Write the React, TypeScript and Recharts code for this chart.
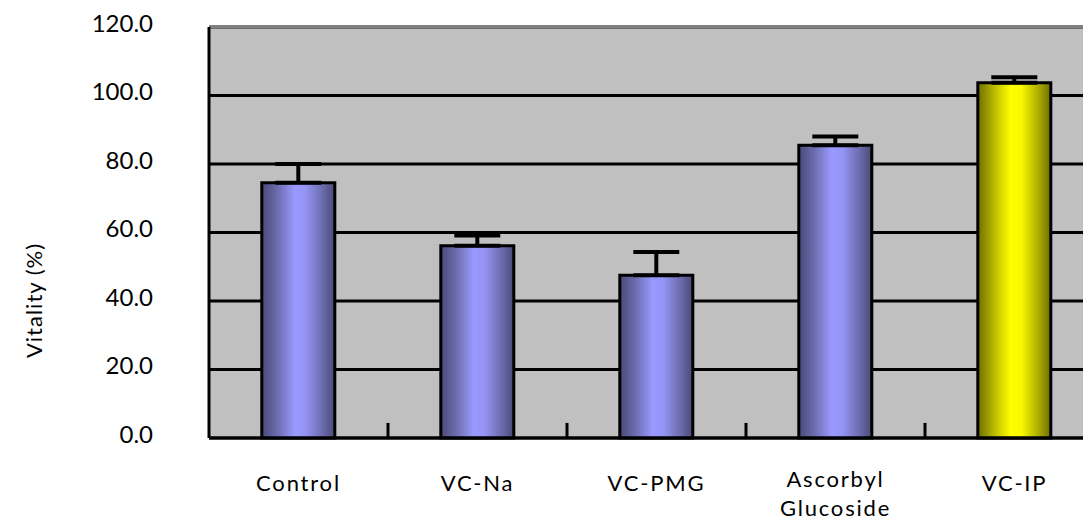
import React from 'react';
import { BarChart, Bar, XAxis, YAxis, CartesianGrid, ErrorBar, Cell, ReferenceLine } from 'recharts';

const categories = ['Control', 'VC-Na', 'VC-PMG', 'Ascorbyl\nGlucoside', 'VC-IP'];
const vitality = [74.5, 56.1, 47.5, 85.5, 103.7];
const errors = [5.5, 3.0, 6.8, 2.5, 1.6];
const yTicks = [0, 20, 40, 60, 80, 100, 120];
const highlight = 'VC-IP';

const data = categories.map((c, i) => ({ name: c, value: vitality[i], err: [0, errors[i]] }));

const FONT = 'Lato, "DejaVu Sans", sans-serif';

const XTick = (props: any) => {
  const { x, y, payload } = props;
  const lines = String(payload.value).split('\n');
  const shift = lines.length > 1 ? -4 : 0;
  return (
    <g>
      {lines.map((l, i) => (
        <text key={i} x={x} y={y + shift + i * 29} textAnchor="middle" dominantBaseline="central"
          fontFamily={FONT} fontSize={22} fill="#000" letterSpacing={1.8}>{l}</text>
      ))}
    </g>
  );
};

const YLabel = (props: any) => {
  const { viewBox } = props;
  const cx = 33;
  const cy = viewBox.y + viewBox.height / 2 + 68;
  return (
    <text x={cx} y={cy} transform={`rotate(-90, ${cx}, ${cy})`} textAnchor="middle" dominantBaseline="central"
      fontFamily={FONT} fontSize={22} fill="#000" letterSpacing={1}>Vitality (%)</text>
  );
};

export default function App() {
  return (
    <div style={{ margin: '-8px 0 0 -8px', width: 1091, height: 524, overflow: 'hidden', background: '#fff' }}>
      <BarChart width={1110} height={524} data={data} margin={{ top: 27, right: 6, bottom: 0, left: 0 }}
        barCategoryGap="29.5%">
        <defs>
          <linearGradient id="blueGrad" x1="0" y1="0" x2="1" y2="0">
            <stop offset="0%" stopColor="#4a4a7a" />
            <stop offset="20%" stopColor="#6a6aaa" />
            <stop offset="45%" stopColor="#9999ff" />
            <stop offset="60%" stopColor="#9494f5" />
            <stop offset="82%" stopColor="#6e6eb0" />
            <stop offset="100%" stopColor="#4a4a78" />
          </linearGradient>
          <linearGradient id="yellowGrad" x1="0" y1="0" x2="1" y2="0">
            <stop offset="0%" stopColor="#6e6e00" />
            <stop offset="22%" stopColor="#b8b800" />
            <stop offset="45%" stopColor="#ffff00" />
            <stop offset="60%" stopColor="#f8f800" />
            <stop offset="82%" stopColor="#b0b000" />
            <stop offset="100%" stopColor="#6e6e00" />
          </linearGradient>
        </defs>
        <CartesianGrid vertical={false} stroke="#000" strokeWidth={3} fill="#c0c0c0" fillOpacity={1} />
        <ReferenceLine y={120} stroke="#808080" strokeWidth={3} />
        <XAxis dataKey="name" height={86} axisLine={{ stroke: '#000', strokeWidth: 3 }} tickLine={false}
          tickSize={0} tickMargin={44} tick={<XTick />} interval={0} />
        <YAxis domain={[0, 120]} ticks={yTicks} width={209} axisLine={{ stroke: '#000', strokeWidth: 3 }}
          tickLine={false} tickSize={0} tickMargin={56} tickFormatter={(v: number) => v.toFixed(1)}
          tick={{ fontFamily: FONT, fontSize: 24, fill: '#000', dy: -4 }}
          label={<YLabel />} />
        {categories.slice(0, 4).map((c) => (
          <ReferenceLine key={c} position="end" segment={[{ x: c, y: 0 }, { x: c, y: 4.4 }]} stroke="#000" strokeWidth={3} />
        ))}
        <Bar dataKey="value" isAnimationActive={false} stroke="#000" strokeWidth={3} fill="url(#blueGrad)">
          {data.map((d) => (
            <Cell key={d.name} fill={d.name === highlight ? 'url(#yellowGrad)' : 'url(#blueGrad)'} />
          ))}
          <ErrorBar dataKey="err" width={23} stroke="#000" strokeWidth={4} direction="y" />
        </Bar>
      </BarChart>
    </div>
  );
}
